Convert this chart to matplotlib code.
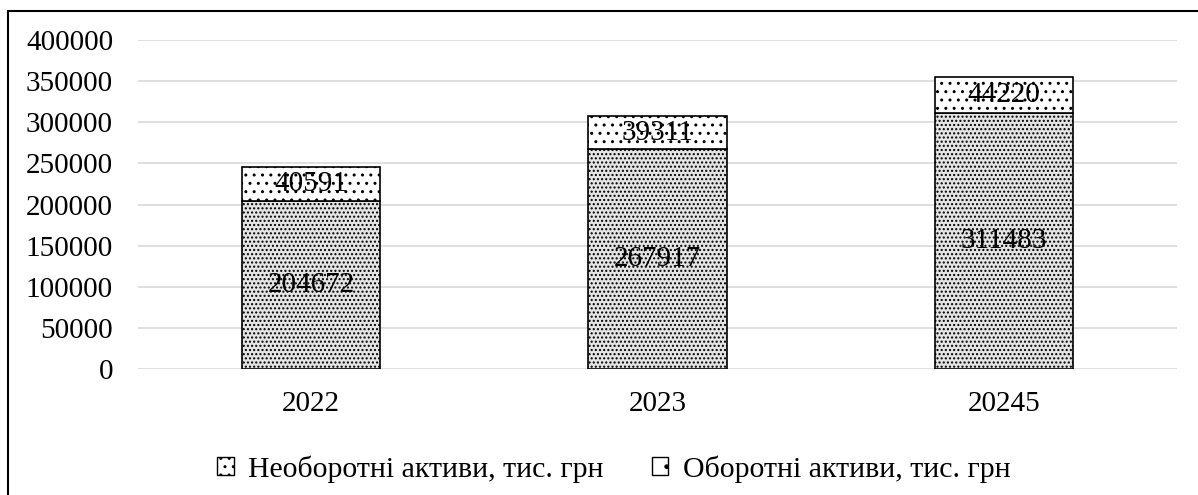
import matplotlib
matplotlib.use("Agg")
from matplotlib import pyplot as plt
from matplotlib.patches import Rectangle

plt.rcParams['font.family'] = ['Liberation Serif', 'DejaVu Serif']
plt.rcParams['hatch.linewidth'] = 1.0

years = ['2022', '2023', '20245']
non_current = [204672, 267917, 311483]  # необоротні активи
current = [40591, 39311, 44220]  # оборотні активи
series_names = ['Необоротні активи, тис. грн', 'Оборотні активи, тис. грн']
yticks = [0, 50000, 100000, 150000, 200000, 250000, 300000, 350000, 400000]

fig = plt.figure(figsize=(11.98, 4.95), dpi=100)
ax = fig.add_axes([0.1152, 0.2545, 0.8673, 0.6645])

xpos = range(len(years))
b1 = ax.bar(xpos, non_current, width=0.4, color='#e4e4e4', edgecolor='black',
            hatch='....', linewidth=1.2, zorder=3)
b2 = ax.bar(xpos, current, width=0.4, bottom=non_current, color='white',
            edgecolor='black', hatch='..', linewidth=1.2, zorder=3)

for i in xpos:
    ax.text(i, non_current[i] / 2, str(non_current[i]), ha='center', va='center',
            fontsize=21, zorder=4)
    ax.text(i, non_current[i] + current[i] / 2, str(current[i]), ha='center',
            va='center', fontsize=21, zorder=4)

ax.set_ylim(0, 400000)
ax.set_xlim(-0.5, 2.5)
ax.set_yticks(yticks)
ax.set_yticklabels([str(v) for v in yticks])
ax.set_xticks(list(xpos))
ax.set_xticklabels(years)
ax.tick_params(axis='both', length=0, labelsize=21)
ax.tick_params(axis='y', pad=18)
ax.tick_params(axis='x', pad=16)
ax.grid(axis='y', color='#d9d9d9', linewidth=1.2, zorder=0)
for s in ax.spines.values():
    s.set_visible(False)

h1 = Rectangle((0, 0), 1, 1, facecolor='white', edgecolor='black', hatch='..')
h2 = Rectangle((0, 0), 1, 1, facecolor='white', edgecolor='black', hatch='.')
ax.legend([h1, h2], series_names, loc='upper center', bbox_to_anchor=(0.458, -0.18),
          ncol=2, frameon=False, fontsize=21.5, handlelength=0.55, handleheight=0.55,
          handletextpad=0.5, columnspacing=1.6)

# outer chart frame (clipped on right and bottom)
fig.patches.append(Rectangle((8 / 1198, -0.05), 1.2, 1 - 11 / 495 + 0.05,
                             transform=fig.transFigure, fill=False,
                             edgecolor='black', linewidth=1.5))

fig.savefig('out.png', dpi=100)
